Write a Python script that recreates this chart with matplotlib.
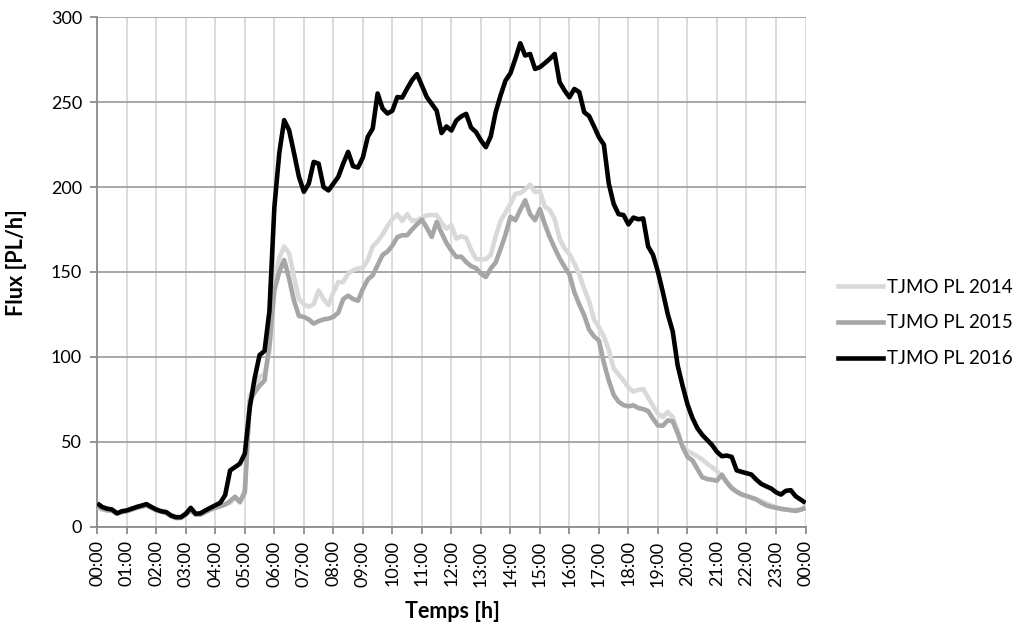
import numpy as np
import matplotlib
matplotlib.use("Agg")
import matplotlib.pyplot as plt
from matplotlib.lines import Line2D

plt.rcParams['font.family'] = ['Lato', 'DejaVu Sans']

hour_labels = [f"{h:02d}:00" for h in range(24)] + ["00:00"]
series_names = ["TJMO PL 2014", "TJMO PL 2015", "TJMO PL 2016"]
y_ticks = [0, 50, 100, 150, 200, 250, 300]

# 10-minute values, 00:00 -> 24:00 (145 points)
flux_2014 = [
    11, 10, 9.5, 9, 7.5, 8.5,
    9, 10, 11, 11.5, 12, 11,
    9.5, 8.5, 8, 6, 5, 5.5,
    8, 10, 7, 7.5, 9, 10,
    11, 12, 13, 14, 17, 14,
    22, 77, 82, 88, 90, 103,
    145, 158, 165, 161, 147, 134,
    131, 129.5, 131, 139, 134, 130.5,
    138, 144, 144, 149, 151, 152,
    152.5, 157, 165, 168, 172, 177,
    181, 184, 180, 184, 180, 180.5,
    182, 183.3, 183.5, 183.5, 179, 175.5,
    177.5, 169.6, 171, 170, 163, 157.8,
    157.3, 157.5, 160, 171, 180, 185,
    190, 196, 196.5, 198.5, 201.4, 197,
    197.5, 188.5, 186.5, 181, 169.6, 163.8,
    160.5, 155, 148.5, 140, 132.5, 122,
    117.5, 112, 104, 93, 89.5, 86,
    82, 79.5, 80.5, 81, 76, 71,
    66.5, 64.5, 67.5, 64.5, 56.5, 47.5,
    44.5, 43, 41.3, 39.5, 37, 35,
    32.5, 29.6, 26.3, 23, 20.6, 18.6,
    17.9, 17, 16, 14.9, 13.8, 12.4,
    11.3, 10.6, 10, 9.6, 9.8, 10.2,
    11.6,
]

flux_2015 = [
    12, 10.5, 9.5, 9.5, 8, 8.5,
    9, 10, 11, 12, 12.5, 11,
    9.5, 9, 8, 6, 5, 5,
    7, 9.5, 7, 7, 8.5, 10,
    11, 12, 13, 15, 17.5, 14.5,
    20, 74, 79, 83, 86, 107,
    139, 150, 157, 146, 133, 124,
    123.5, 122, 119.5, 121, 122, 122.5,
    123.5, 126, 134, 136, 134, 133,
    140, 145.5, 148, 154, 160, 162,
    165.5, 170.5, 171.6, 171.6, 175, 178,
    180.8, 176, 170.6, 179.4, 173, 167,
    162.5, 158.8, 159, 155.8, 153.4, 152.2,
    149, 147, 152, 155.5, 163.5, 172,
    182.4, 180.4, 186.5, 192.2, 184, 180.5,
    187, 178, 170.5, 164, 158, 153,
    148.5, 138, 130.8, 124.5, 116, 112,
    109.5, 96.5, 86, 77.5, 73.5, 71.5,
    70.8, 71.4, 69.8, 69.2, 68, 63.5,
    59.5, 59.4, 62.5, 62, 55, 47,
    41, 39, 34, 29, 28, 27.5,
    27, 30.5, 26, 22.5, 20.5, 19,
    18, 17, 16, 14, 12.5, 11.6,
    11, 10.4, 10, 9.6, 9.2, 9.8,
    11,
]

flux_2016 = [
    13.6, 11.5, 10.5, 10, 7.7, 9,
    9.5, 10.5, 11.5, 12.3, 13.2, 11.5,
    10, 9, 8.5, 6.5, 5.5, 5.5,
    7.5, 11, 7.5, 7.8, 9.5, 11,
    12.5, 14, 18.5, 33, 35, 37,
    43, 70, 87.5, 101, 103.4, 127,
    188, 220, 239.4, 233.5, 220, 206,
    197.2, 202, 214.8, 213.8, 200, 198,
    202, 206, 213.8, 220.7, 212.3, 211.5,
    217.4, 229.6, 234.5, 255.1, 246.3, 243.3,
    245, 253, 252.7, 258, 263, 266.5,
    259.8, 253, 249, 245, 231.8, 235.7,
    233.3, 239.2, 241.6, 243.1, 235, 232.4,
    227.5, 223.5, 229.8, 244.1, 254, 262.7,
    267, 275.5, 284.7, 277.5, 278.4, 269.6,
    270.6, 273, 275.5, 278.4, 261.8, 256.9,
    252.9, 257.8, 255.9, 244.1, 241.8, 235.7,
    229.4, 225, 202, 190, 184, 183.5,
    178, 182, 181, 181.5, 165, 160,
    150, 138, 125, 115, 95, 83,
    72, 64, 58, 54, 51, 48,
    44, 41.4, 41.8, 41, 33.1, 32.2,
    31.4, 30.6, 27.6, 25.1, 23.7, 22.4,
    20.2, 18.8, 21, 21.4, 17.8, 15.9,
    13.9,
]

colors = ['#d9d9d9', '#a6a6a6', '#000000']
LW = 3.3
FS = 13

W, H = 1022, 630
fig = plt.figure(figsize=(W / 100, H / 100), dpi=100)
x0, x1, y0, y1 = 97.3, 805.5, 17.3, 526.5
ax = fig.add_axes([x0 / W, 1 - y1 / H, (x1 - x0) / W, (y1 - y0) / H])

x = np.arange(len(flux_2016)) / 6.0
for vals, col, name in zip([flux_2014, flux_2015, flux_2016], colors, series_names):
    ax.plot(x, vals, color=col, lw=LW, label=name,
            solid_joinstyle='round', solid_capstyle='butt', zorder=3)

ax.set_xlim(0, 24)
ax.set_ylim(0, 300)
ax.set_xticks(range(25))
ax.set_xticklabels(hour_labels, rotation=90, fontsize=FS)
ax.set_yticks(y_ticks)
ax.set_yticklabels([str(v) for v in y_ticks], fontsize=FS)

ax.grid(axis='y', color='#a0a0a0', lw=1.3, zorder=1)
ax.grid(axis='x', color='#d9d9d9', lw=1.3, zorder=1)
ax.set_axisbelow(True)
for s in ['top', 'right']:
    ax.spines[s].set_visible(False)
for s in ['left', 'bottom']:
    ax.spines[s].set_color('#8c8c8c')
    ax.spines[s].set_linewidth(1.3)
ax.tick_params(axis='y', direction='out', length=5, width=1.3, color='#8c8c8c', pad=6)
ax.tick_params(axis='x', direction='out', length=5, width=1.3, color='#8c8c8c', pad=5)

fig.text(17 / W, 1 - 262.5 / H, "Flux [PL/h]", rotation=90, ha='center', va='center',
         fontsize=15.5, fontweight='bold')
fig.text(452 / W, 1 - 611 / H, "Temps [h]", ha='center', va='center',
         fontsize=15.5, fontweight='bold')

handles = [Line2D([0], [0], color=c, lw=LW) for c in colors]
fig.legend(handles, series_names, loc='center left',
           bbox_to_anchor=(838 / W, 1 - 323 / H), frameon=False,
           fontsize=13.5, handlelength=2.4, handletextpad=0.2,
           labelspacing=1.0, borderpad=0, borderaxespad=0)

fig.savefig("out.png", dpi=100)
